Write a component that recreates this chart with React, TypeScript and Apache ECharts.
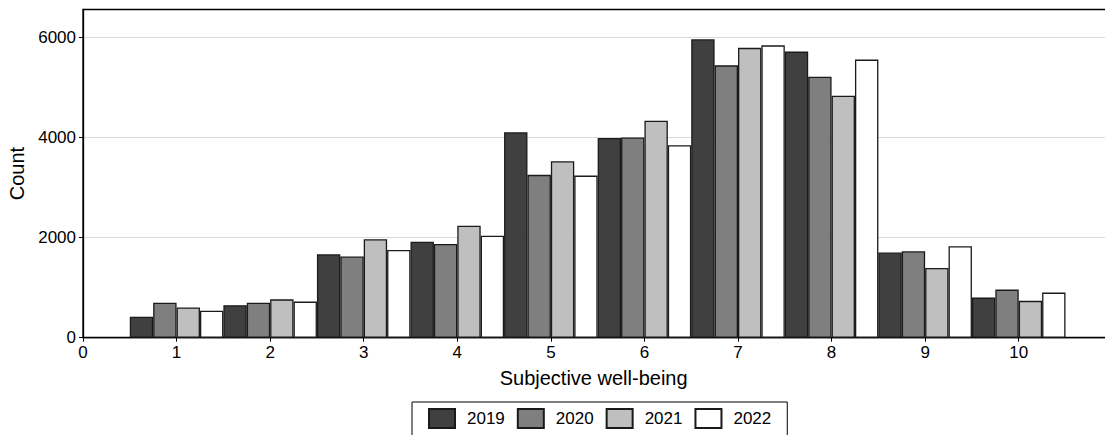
import React, { useEffect, useRef } from "react";
import * as echarts from "echarts";

const categories = [1, 2, 3, 4, 5, 6, 7, 8, 9, 10];
const years = ["2019", "2020", "2021", "2022"];
const v2019 = [420, 650, 1665, 1915, 4100, 3985, 5955, 5710, 1700, 800];
const v2020 = [700, 700, 1620, 1870, 3250, 3995, 5435, 5210, 1725, 960];
const v2021 = [605, 765, 1965, 2235, 3520, 4330, 5785, 4830, 1390, 735];
const v2022 = [540, 720, 1750, 2035, 3235, 3840, 5835, 5550, 1825, 900];
const seriesValues = [v2019, v2020, v2021, v2022];
const fills = ["#404040", "#7f7f7f", "#bfbfbf", "#ffffff"];
const xTicks = [0, 1, 2, 3, 4, 5, 6, 7, 8, 9, 10];
const yTicks = [0, 2000, 4000, 6000];

const FONT = "'Liberation Sans', Arial, sans-serif";

export default function App() {
  const ref = useRef<HTMLDivElement>(null);
  useEffect(() => {
    if (!ref.current) return;
    const chart = echarts.init(ref.current, undefined, { renderer: "svg" });
    chart.setOption({
      animation: false,
      backgroundColor: "#ffffff",
      textStyle: { fontFamily: FONT },
      grid: {
        left: 83,
        top: 9.5,
        bottom: 97.3,
        right: -7.3,
        show: true,
        borderColor: "#000",
        borderWidth: 1.3,
        containLabel: false,
        outerBoundsMode: "none",
      },
      legend: {
        left: 412,
        top: 402,
        padding: [6, 16, 10, 16],
        borderColor: "#000",
        borderWidth: 1,
        itemWidth: 26,
        itemHeight: 19,
        itemGap: 12,
        icon: "rect",
        data: years,
        textStyle: { fontSize: 17, color: "#000", fontFamily: FONT, padding: [0, 0, 0, 7] },
      },
      xAxis: {
        type: "value",
        min: 0,
        max: 11,
        name: "Subjective well-being",
        nameLocation: "middle",
        nameGap: 30,
        nameTextStyle: { fontSize: 20, color: "#000", fontFamily: FONT, padding: [0, 8, 0, 0] },
        axisLine: { show: true, lineStyle: { color: "#000", width: 1.3 } },
        axisTick: { show: true, length: 4, customValues: xTicks, lineStyle: { color: "#000" } },
        axisLabel: {
          customValues: xTicks,
          fontSize: 17,
          color: "#000",
          margin: 6,
          fontFamily: FONT,
          formatter: (v: number) => String(v),
        },
        splitLine: { show: false },
      },
      yAxis: {
        type: "value",
        min: 0,
        max: 6550,
        name: "Count",
        nameLocation: "middle",
        nameGap: 53,
        nameTextStyle: { fontSize: 20, color: "#000", fontFamily: FONT },
        axisLine: { show: true, lineStyle: { color: "#000", width: 1.3 } },
        axisTick: { show: true, length: 4, customValues: yTicks, lineStyle: { color: "#000" } },
        axisLabel: {
          customValues: yTicks,
          fontSize: 17,
          color: "#000",
          margin: 7,
          fontFamily: FONT,
          formatter: (v: number) => String(v),
        },
        splitLine: { show: true, lineStyle: { color: "#d9d9d9", width: 1 } },
      },
      series: years.map((y, i) => ({
        name: y,
        type: "bar",
        barWidth: "25%",
        barGap: "0%",
        data: categories.map((c, j) => [c, seriesValues[i][j]]),
        itemStyle: { color: fills[i], borderColor: "#1a1a1a", borderWidth: 1.3 },
      })),
    });
    return () => chart.dispose();
  }, []);
  return (
    <div
      ref={ref}
      style={{ position: "fixed", left: 0, top: 0, width: 1105, height: 435 }}
    />
  );
}
